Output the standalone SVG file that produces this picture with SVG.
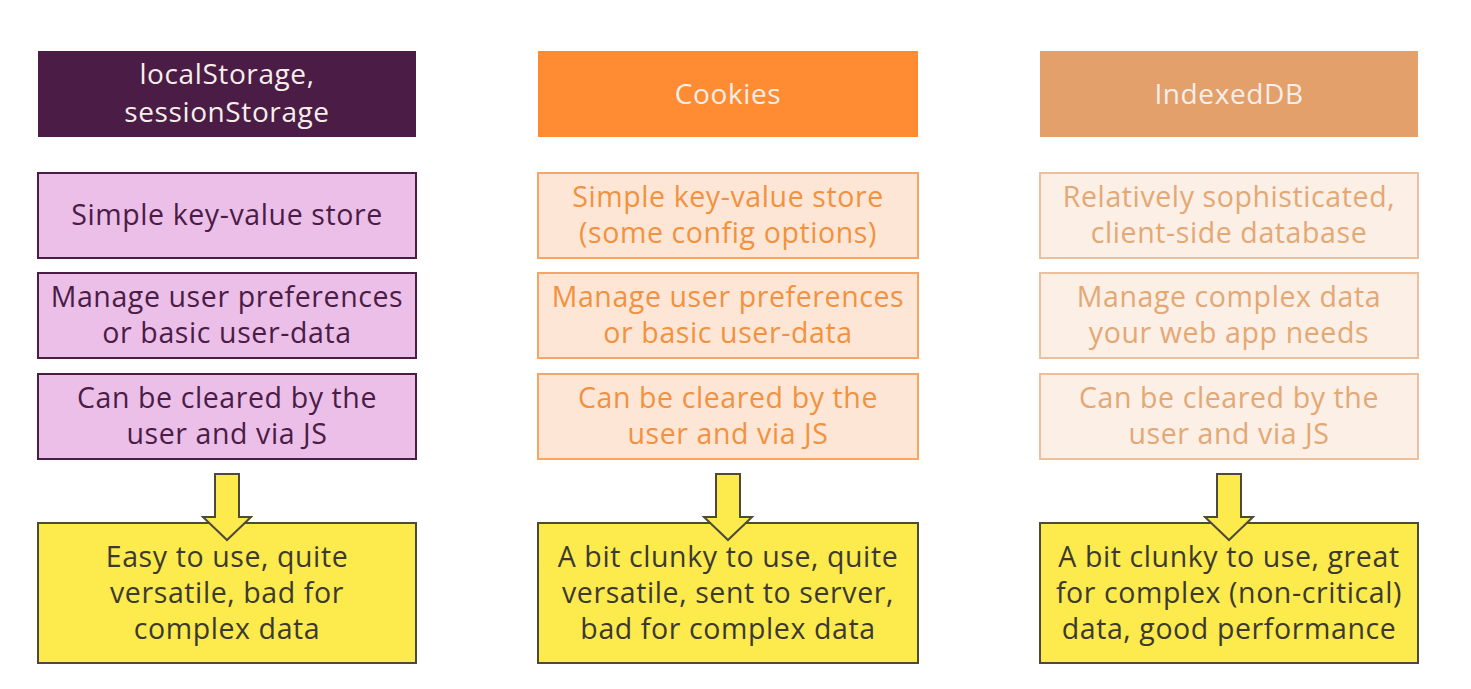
<svg xmlns="http://www.w3.org/2000/svg" width="1471" height="689" viewBox="0 0 1471 689">
<style>
text{font-family:"Open Sans","Noto Sans","Liberation Sans",sans-serif;font-size:28.5px;letter-spacing:0.6px;text-anchor:middle}
.h{fill:#f7eee9;font-size:28px}
.c1 rect{fill:#ebbfe8;stroke:#4a1c46;stroke-width:2}
.c1 text{fill:#4a1c46}
.c2 rect{fill:#fde6d5;stroke:#f6a567;stroke-width:2}
.c2 text{fill:#f29240}
.c3 rect{fill:#fbefe6;stroke:#ecc09c;stroke-width:2}
.c3 text{fill:#e4a874}
.y rect{fill:#fdea4c;stroke:#4d4a3a;stroke-width:2}
.y text{fill:#3c3a30}
.arr{fill:#fdea4c;stroke:#4d4a3a;stroke-width:2;stroke-linejoin:miter}
</style>
<rect width="1471" height="689" fill="#ffffff"/>
<g id="h1"><rect x="38" y="51" width="378" height="86" fill="#4a1c46"/><text class="h" x="227" y="84">localStorage,</text><text class="h" x="227" y="122">sessionStorage</text></g>
<g id="h2"><rect x="538" y="51" width="380" height="86" fill="#ff8c33"/><text class="h" x="728" y="104">Cookies</text></g>
<g id="h3"><rect x="1040" y="51" width="378" height="86" fill="#e3a06b"/><text class="h" x="1229" y="104">IndexedDB</text></g>

<g id="a1" class="c1"><rect x="38" y="173" width="378" height="85"/><text x="227" y="225">Simple key-value store</text></g>
<g id="a2" class="c1"><rect x="38" y="273" width="378" height="85"/><text x="227" y="307">Manage user preferences</text><text x="227" y="343">or basic user-data</text></g>
<g id="a3" class="c1"><rect x="38" y="374" width="378" height="85"/><text x="227" y="408">Can be cleared by the</text><text x="227" y="444">user and via JS</text></g>

<g id="b1" class="c2"><rect x="538" y="173" width="380" height="85"/><text x="728" y="207">Simple key-value store</text><text x="728" y="243">(some config options)</text></g>
<g id="b2" class="c2"><rect x="538" y="273" width="380" height="85"/><text x="728" y="307">Manage user preferences</text><text x="728" y="343">or basic user-data</text></g>
<g id="b3" class="c2"><rect x="538" y="374" width="380" height="85"/><text x="728" y="408">Can be cleared by the</text><text x="728" y="444">user and via JS</text></g>

<g id="c1" class="c3"><rect x="1040" y="173" width="378" height="85"/><text x="1229" y="207">Relatively sophisticated,</text><text x="1229" y="243">client-side database</text></g>
<g id="c2" class="c3"><rect x="1040" y="273" width="378" height="85"/><text x="1229" y="307">Manage complex data</text><text x="1229" y="343">your web app needs</text></g>
<g id="c3" class="c3"><rect x="1040" y="374" width="378" height="85"/><text x="1229" y="408">Can be cleared by the</text><text x="1229" y="444">user and via JS</text></g>

<g id="y1" class="y"><rect x="38" y="523" width="378" height="140"/><text x="227" y="567">Easy to use, quite</text><text x="227" y="603">versatile, bad for</text><text x="227" y="639">complex data</text></g>
<g id="y2" class="y"><rect x="538" y="523" width="380" height="140"/><text x="728" y="567">A bit clunky to use, quite</text><text x="728" y="603">versatile, sent to server,</text><text x="728" y="639">bad for complex data</text></g>
<g id="y3" class="y"><rect x="1040" y="523" width="378" height="140"/><text x="1229" y="567">A bit clunky to use, great</text><text x="1229" y="603">for complex (non-critical)</text><text x="1229" y="639">data, good performance</text></g>

<g id="connectors">
<path class="arr" d="M215 474 H239 V517 H251 L227 540 L203 517 H215 Z"/>
<path class="arr" d="M716 474 H740 V517 H752 L728 540 L704 517 H716 Z"/>
<path class="arr" d="M1217 474 H1241 V517 H1253 L1229 540 L1205 517 H1217 Z"/>
</g>
</svg>
